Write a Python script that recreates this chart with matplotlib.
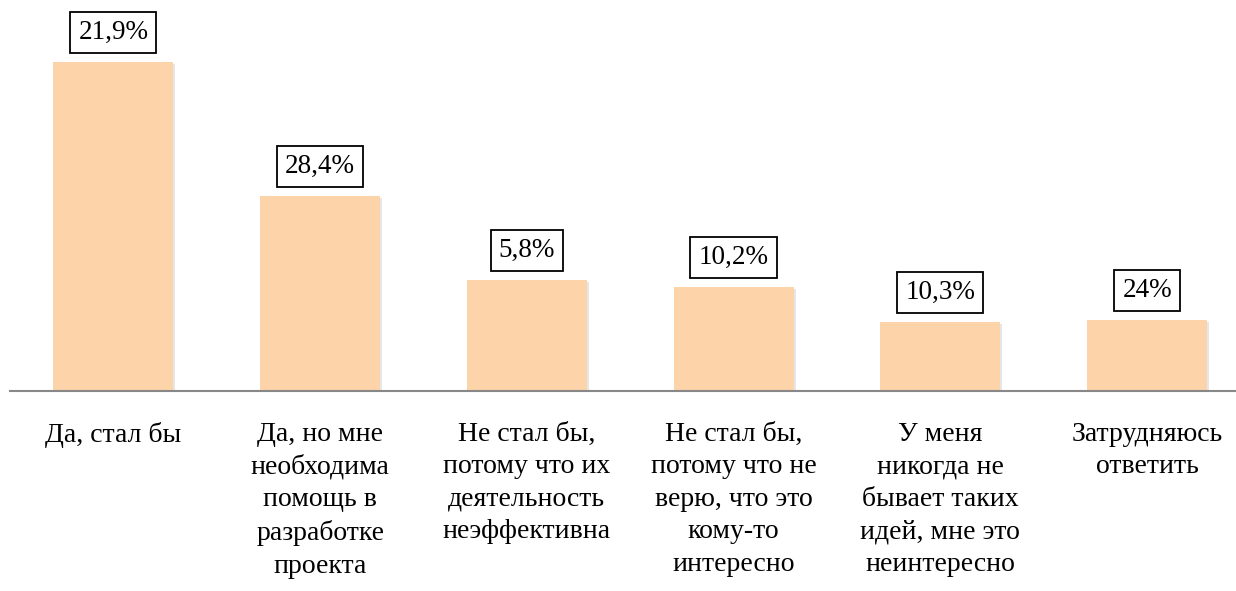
import numpy as np
import matplotlib.pyplot as plt
import matplotlib.patheffects as pe

categories = [
    "Да, стал бы",
    "Да, но мне\nнеобходима\nпомощь в\nразработке\nпроекта",
    "Не стал бы,\nпотому что их\nдеятельность\nнеэффективна",
    "Не стал бы,\nпотому что не\nверю, что это\nкому-то\nинтересно",
    "У меня\nникогда не\nбывает таких\nидей, мне это\nнеинтересно",
    "Затрудняюсь\nответить",
]
# bar heights as drawn (they do not follow the printed labels)
heights = [329, 195, 111, 104, 69, 71]
value_labels = ["21,9%", "28,4%", "5,8%", "10,2%", "10,3%", "24%"]

plt.rcParams['font.family'] = ['Liberation Serif', 'DejaVu Serif']

fig = plt.figure(figsize=(12.36, 5.91), dpi=100)
ax = fig.add_axes([10 / 1236, 1 - 391 / 591, 1 - 10 / 1236, 391 / 591])

x = np.arange(len(categories))
bars = ax.bar(x, heights, width=0.58, color='#FDD4A9', zorder=2)
for b in bars:
    b.set_path_effects([pe.SimplePatchShadow(offset=(1.5, -1.5), shadow_rgbFace='#c8c8c8', alpha=0.45),
                        pe.Normal()])

for xi, h, lab in zip(x, heights, value_labels):
    ax.annotate(lab, (xi, h), xytext=(0, 12), textcoords='offset points',
                ha='center', va='bottom', fontsize=19.5,
                bbox=dict(boxstyle='square,pad=0.3', fc='white', ec='black', lw=1.3))

ax.set_xlim(-0.5, 5.43)
ax.set_ylim(0, 391)
ax.set_xticks(x)
ax.set_xticklabels(categories, fontsize=20, linespacing=1.4, va='top')
ax.tick_params(axis='x', length=0, pad=22)
ax.set_yticks([])
for s in ['top', 'right', 'left']:
    ax.spines[s].set_visible(False)
ax.spines['bottom'].set_color('#888888')
ax.spines['bottom'].set_linewidth(1.5)

fig.savefig('out.png', dpi=100)
